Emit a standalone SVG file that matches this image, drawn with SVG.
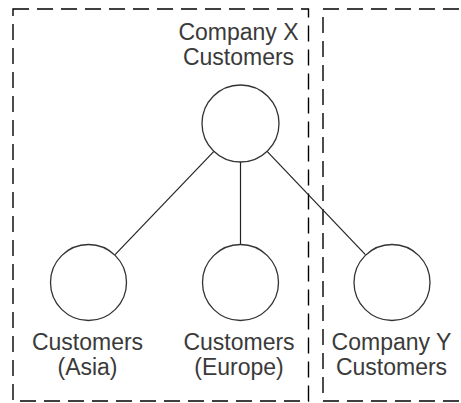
<svg xmlns="http://www.w3.org/2000/svg" width="461" height="403" viewBox="0 0 461 403">
<style>
.box{fill:none;stroke:#000;stroke-width:1.4;stroke-dasharray:16 8}
.edge{stroke:#222;stroke-width:1.2;fill:none}
.node{fill:#fff;stroke:#333;stroke-width:1.3}
.lbl{font-family:"Liberation Sans",Arial,sans-serif;font-size:23px;fill:#3a3a3a;text-anchor:middle}
</style>
<rect width="461" height="403" fill="#fff"/>
<g id="group-x">
<rect class="box" x="13" y="9" width="295.5" height="392"/>
</g>
<g id="group-y">
<rect class="box" x="323" y="9" width="160" height="392"/>
</g>
<g id="connectors">
<line class="edge" x1="213.9" y1="151.3" x2="115.1" y2="254.7"/>
<line class="edge" x1="240.5" y1="162" x2="240.5" y2="244"/>
<line class="edge" x1="267.1" y1="151.3" x2="365.4" y2="254.7"/>
</g>
<g id="node-company-x">
<circle class="node" cx="240.5" cy="123.5" r="38.5"/>
<text class="lbl" x="238.5" y="40">Company X</text>
<text class="lbl" x="238.5" y="64.5">Customers</text>
</g>
<g id="node-asia">
<circle class="node" cx="88.5" cy="282.5" r="38"/>
<text class="lbl" x="87.5" y="349.5">Customers</text>
<text class="lbl" x="87.5" y="375">(Asia)</text>
</g>
<g id="node-europe">
<circle class="node" cx="240.5" cy="282.5" r="38"/>
<text class="lbl" x="239" y="349.5">Customers</text>
<text class="lbl" x="239" y="375">(Europe)</text>
</g>
<g id="node-company-y">
<circle class="node" cx="392" cy="282.5" r="38"/>
<text class="lbl" x="391.5" y="349.5">Company Y</text>
<text class="lbl" x="391.5" y="375">Customers</text>
</g>
</svg>
